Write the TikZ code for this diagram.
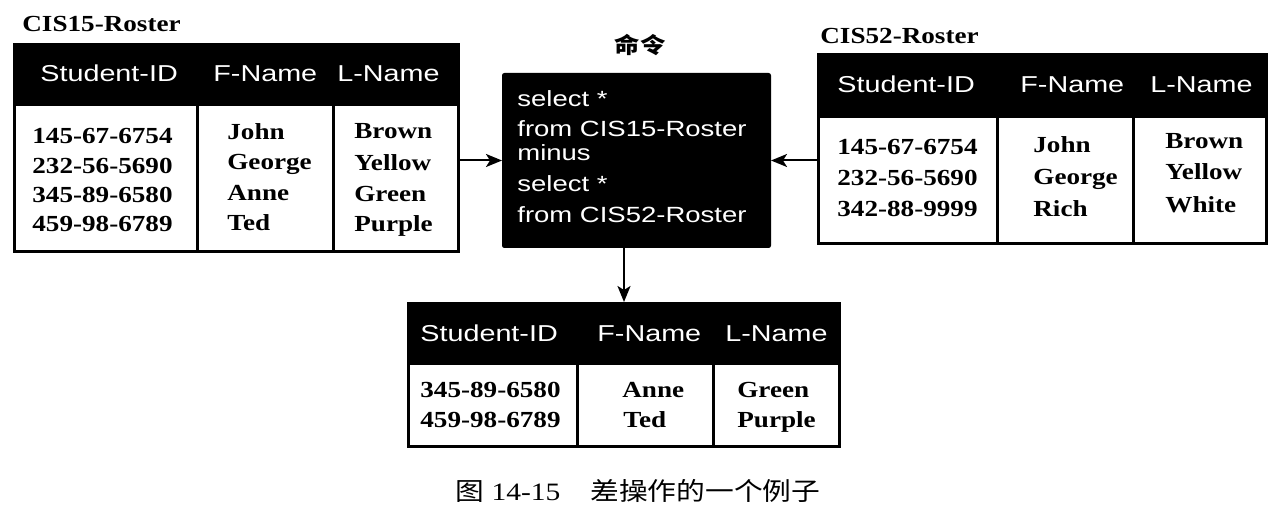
\documentclass[tikz,border=0pt]{standalone}
\usepackage{fontspec}
\setmainfont{Liberation Serif}[FakeStretch=1.18]
\newfontfamily\sqlfont{Liberation Sans}[FakeStretch=1.25]
\newfontfamily\cjk{Noto Sans CJK SC}[FakeStretch=1.15]
\usetikzlibrary{arrows.meta}

\tikzset{every picture/.style={line width=0.75pt}}
\tikzset{
  tblhead/.style={draw, fill=black, line width=3pt, anchor=north west, inner sep=0pt},
  tblbody/.style={draw, fill=white, line width=3pt, anchor=north west, inner sep=0pt},
  hdtext/.style={anchor=base west, inner sep=0pt, text=white, font=\sqlfont\fontsize{23}{28}\selectfont},
  cell/.style={anchor=base west, inner sep=0pt, font=\fontsize{23}{28}\selectfont\bfseries},
  sqltext/.style={anchor=base west, inner sep=0pt, text=white, font=\sqlfont\fontsize{22}{26}\selectfont},
  arr/.style={line width=2pt, -{Stealth[length=16pt,width=13pt,inset=4pt]}},
}

\begin{document}
\begin{tikzpicture}[x=1pt,y=1pt,yscale=-1,xscale=1]
\useasboundingbox (0,0) rectangle (1280,518);

%Table: CIS15-Roster
\node[cell] (ltitle) at (22,32) {CIS15-Roster};
\node[tblbody, minimum width=444, minimum height=147] (lbody) at (13,103) {};
\node[tblhead, minimum width=444, minimum height=60] (lhead) at (13,43) {};
\draw [line width=3pt] (197,103) -- (197,250) ;
\draw [line width=3pt] (333,103) -- (333,250) ;
% Text Node
\node[hdtext] (lh1) at (40,82) {Student-ID};
\node[hdtext] (lh2) at (213,82) {F-Name};
\node[hdtext] (lh3) at (337,82) {L-Name};
% Text Node
\node[cell] (l11) at (32,144) {145-67-6754};
\node[cell] (l21) at (32,174) {232-56-5690};
\node[cell] (l31) at (32,203) {345-89-6580};
\node[cell] (l41) at (32,232) {459-98-6789};
\node[cell] (l12) at (227,140) {John};
\node[cell] (l22) at (227,170) {George};
\node[cell] (l32) at (227,201) {Anne};
\node[cell] (l42) at (227,231) {Ted};
\node[cell] (l13) at (354,139) {Brown};
\node[cell] (l23) at (354,171) {Yellow};
\node[cell] (l33) at (354,202) {Green};
\node[cell] (l43) at (354,232) {Purple};

%Table: CIS52-Roster
\node[cell] (rtitle) at (820,44) {CIS52-Roster};
\node[tblbody, minimum width=448, minimum height=127] (rbody) at (817,115) {};
\node[tblhead, minimum width=448, minimum height=62] (rhead) at (817,53) {};
\draw [line width=3pt] (997,115) -- (997,242) ;
\draw [line width=3pt] (1133,115) -- (1133,242) ;
% Text Node
\node[hdtext] (rh1) at (837,93) {Student-ID};
\node[hdtext] (rh2) at (1020,93) {F-Name};
\node[hdtext] (rh3) at (1150,93) {L-Name};
% Text Node
\node[cell] (r11) at (837,155) {145-67-6754};
\node[cell] (r21) at (837,186) {232-56-5690};
\node[cell] (r31) at (837,217) {342-88-9999};
\node[cell] (r12) at (1033,153) {John};
\node[cell] (r22) at (1033,185) {George};
\node[cell] (r32) at (1033,217) {Rich};
\node[cell] (r13) at (1165,149) {Brown};
\node[cell] (r23) at (1165,180) {Yellow};
\node[cell] (r33) at (1165,213) {White};

%Command box
\node[font=\cjk\bfseries\fontsize{22}{26}\selectfont, inner sep=0pt] (cmdtitle) at (640,45) {命令};
\node[draw, fill=black, rounded corners=2pt, line width=1pt, minimum width=268, minimum height=174, anchor=north west, inner sep=0pt] (cmd) at (502,73) {};
% Text Node
\node[sqltext] (q1) at (517,107) {select *};
\node[sqltext] (q2) at (517,137) {from CIS15-Roster};
\node[sqltext] (q3) at (517,161) {minus};
\node[sqltext] (q4) at (517,192) {select *};
\node[sqltext] (q5) at (517,223) {from CIS52-Roster};

%Table: result
\node[tblbody, minimum width=431, minimum height=83] (bbody) at (407,362) {};
\node[tblhead, minimum width=431, minimum height=60] (bhead) at (407,302) {};
\draw [line width=3pt] (577,362) -- (577,445) ;
\draw [line width=3pt] (713,362) -- (713,445) ;
% Text Node
\node[hdtext] (bh1) at (420,342) {Student-ID};
\node[hdtext] (bh2) at (597,342) {F-Name};
\node[hdtext] (bh3) at (725,342) {L-Name};
% Text Node
\node[cell] (b11) at (420,398) {345-89-6580};
\node[cell] (b21) at (420,428) {459-98-6789};
\node[cell] (b12) at (622,398) {Anne};
\node[cell] (b22) at (623,428) {Ted};
\node[cell] (b13) at (737,398) {Green};
\node[cell] (b23) at (737,428) {Purple};

%Arrows
\draw [arr] (lbody.east |- cmd.west) -- (cmd.west) ;
\draw [arr] (rbody.west |- cmd.east) -- (cmd.east) ;
\draw [arr] (bhead.north |- cmd.south) -- (bhead.north) ;

% Caption
\node[anchor=base, inner sep=0pt, font=\fontsize{25}{30}\selectfont] (caption) at (638,500) {{\cjk 图} 14-15\hspace{1.2em}{\cjk 差操作的一个例子}};

\end{tikzpicture}
\end{document}
